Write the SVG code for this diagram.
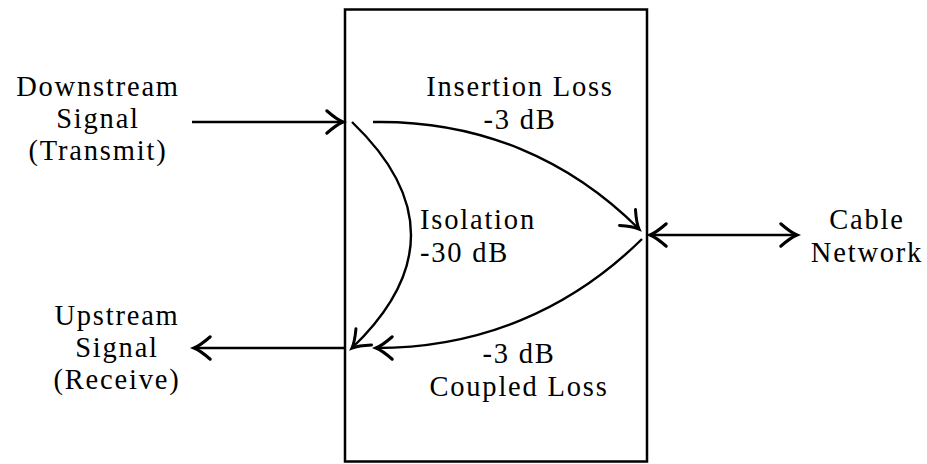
<svg xmlns="http://www.w3.org/2000/svg" width="927" height="464" viewBox="0 0 927 464">
<style>
text{font-family:"Liberation Serif","DejaVu Serif",serif;font-size:28.5px;letter-spacing:1.8px;fill:#000}
.c{text-anchor:middle}
.ln{fill:none;stroke:#000;stroke-width:2.4}
</style>
<defs>
<marker id="ah" markerUnits="userSpaceOnUse" orient="auto-start-reverse" markerWidth="30" markerHeight="30" refX="0" refY="0" viewBox="-16 -12 20 24" overflow="visible">
<path d="M-13,-9 Q-5,-2 0,0 Q-5,2 -13,9" fill="none" stroke="#000" stroke-width="2.4" stroke-linecap="round"/>
</marker>
</defs>
<g id="box"><rect x="345" y="9.5" width="302" height="452" fill="none" stroke="#000" stroke-width="2.5"/></g>
<g id="connectors">
<path class="ln" d="M192,122 L343,122" marker-end="url(#ah)"/>
<path class="ln" d="M345,348 L194,348" marker-end="url(#ah)"/>
<path class="ln" d="M650,235 L797,235" marker-start="url(#ah)" marker-end="url(#ah)"/>
<path class="ln" d="M373,122 C480,120 570,160 639,229" marker-end="url(#ah)"/>
<path class="ln" d="M352,122 Q470,235 352,348" marker-end="url(#ah)"/>
<path class="ln" d="M642,239 C570,310 480,348 376,348" marker-end="url(#ah)"/>
</g>
<g id="downstream"><text class="c" x="98" y="96">Downstream</text><text class="c" x="98" y="128">Signal</text><text class="c" x="98" y="160">(Transmit)</text></g>
<g id="upstream"><text class="c" x="117" y="325">Upstream</text><text class="c" x="117" y="357">Signal</text><text class="c" x="117" y="389">(Receive)</text></g>
<g id="cable"><text class="c" x="867" y="229">Cable</text><text class="c" x="867" y="262">Network</text></g>
<g id="insertion"><text class="c" x="520" y="96">Insertion Loss</text><text class="c" x="520" y="129">-3 dB</text></g>
<g id="isolation"><text x="420" y="229">Isolation</text><text x="420" y="262">-30 dB</text></g>
<g id="coupled"><text class="c" x="519" y="363">-3 dB</text><text class="c" x="519" y="396">Coupled Loss</text></g>
</svg>
